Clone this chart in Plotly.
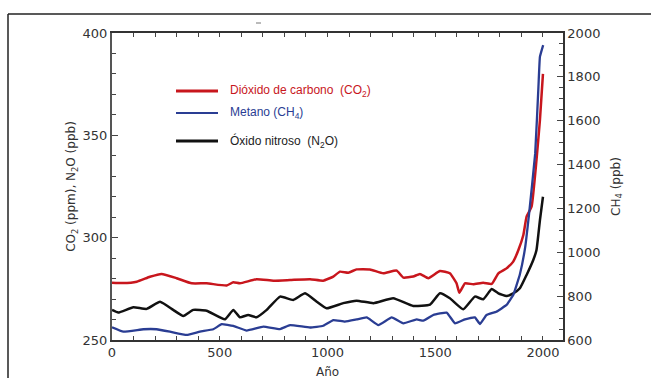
import plotly.graph_objects as go

# ---- data ----
co2_years = [0, 50, 115, 176, 230, 300, 370, 439, 532, 563, 594, 671, 749, 826, 919, 980,
             1027, 1058, 1097, 1135, 1197, 1259, 1321, 1352, 1398, 1429, 1468, 1522, 1568,
             1599, 1612, 1638, 1677, 1723, 1762, 1793, 1831, 1862, 1886, 1909, 1924, 1947,
             1970, 1986, 2000]
co2_values = [278.0, 277.8, 278.5, 280.9, 282.3, 280.2, 277.7, 277.7, 276.6, 278.2, 277.7,
              279.7, 279.0, 279.3, 279.7, 279.0, 281.0, 283.4, 282.9, 284.5, 284.5, 282.6,
              283.9, 280.5, 281.0, 282.3, 280.2, 283.7, 282.6, 277.7, 273.1, 277.7, 277.2,
              278.0, 277.4, 282.6, 285.0, 288.3, 294.0, 301.3, 310.3, 315.1, 338.0, 357.5,
              380.0]

ch4_years = [0, 53, 146, 207, 269, 347, 408, 470, 509, 563, 625, 702, 780, 826, 919, 980,
             1027, 1081, 1135, 1182, 1236, 1298, 1352, 1414, 1445, 1491, 1553, 1592, 1638,
             1684, 1708, 1738, 1784, 1831, 1862, 1893, 1917, 1935, 1964, 1979, 1986, 2001]
ch4_values = [658, 638, 649, 649, 638, 623, 638, 649, 672, 664, 643, 661, 650, 668, 657, 665,
              691, 684, 694, 703, 668, 703, 676, 694, 688, 714, 725, 676, 694, 703, 673, 714,
              729, 760, 805, 900, 1020, 1170, 1451, 1755, 1892, 1945]

n2o_years = [0, 29, 99, 161, 223, 284, 331, 377, 439, 524, 563, 594, 632, 671, 718, 780, 841,
             896, 950, 996, 1073, 1135, 1213, 1305, 1398, 1476, 1522, 1568, 1630, 1684, 1723,
             1762, 1793, 1831, 1862, 1893, 1924, 1955, 1970, 1986, 2000]
n2o_values = [264.7, 263.4, 266.0, 265.2, 268.7, 264.7, 261.7, 264.7, 264.3, 260.1, 264.7,
              261.1, 262.2, 261.1, 264.7, 271.2, 269.6, 272.8, 268.7, 265.5, 268.0, 269.2,
              268.0, 270.4, 266.6, 267.3, 272.8, 270.4, 265.0, 271.2, 269.9, 274.9, 272.8,
              271.5, 272.8, 275.3, 281.8, 289.1, 294.0, 308.6, 320.0]

x_ticks = [0, 500, 1000, 1500, 2000]
left_ticks = [250, 300, 350, 400]
right_ticks = [600, 800, 1000, 1200, 1400, 1600, 1800, 2000]

legend_labels = ["Dióxido de carbono  (CO<sub>2</sub>)", "Metano (CH<sub>4</sub>)",
                 "Óxido nitroso  (N<sub>2</sub>O)"]

RED = "#c8161d"
BLUE = "#2a3d93"
BLACK = "#111111"
TXT = "#333333"
FONT = "DejaVu Sans"

W, H = 651, 378
L, R, T, B = 112, 88, 33, 38
PW, PH = W - L - R, H - T - B


def px(xp):
    return (xp - L) / PW


def py(yp):
    return (H - B - yp) / PH


fig = go.Figure()
fig.add_trace(go.Scatter(x=co2_years, y=co2_values, mode="lines", yaxis="y",
                         line=dict(color=RED, width=2.5, shape="spline", smoothing=0.4),
                         showlegend=False))
fig.add_trace(go.Scatter(x=n2o_years, y=n2o_values, mode="lines", yaxis="y",
                         line=dict(color=BLACK, width=2.5, shape="spline", smoothing=0.4),
                         showlegend=False))
fig.add_trace(go.Scatter(x=ch4_years, y=ch4_values, mode="lines", yaxis="y2",
                         line=dict(color=BLUE, width=2.3, shape="spline", smoothing=0.3),
                         showlegend=False))

axis_common = dict(showgrid=False, zeroline=False, ticks="inside", tickcolor="#444",
                   linecolor="#333", linewidth=1.5,
                   tickfont=dict(family=FONT, size=13, color=TXT))

fig.update_layout(
    width=W, height=H,
    margin=dict(l=L, r=R, t=T, b=B, pad=0),
    paper_bgcolor="white", plot_bgcolor="white",
    font=dict(family=FONT, color=TXT),
    xaxis=dict(range=[0, 2093], tickvals=x_ticks, ticklen=4, showline=True, mirror="allticks",
               minor=dict(dtick=100, ticklen=2, ticks="inside", tickcolor="#444"),
               **axis_common),
    yaxis=dict(range=[250, 400], tickvals=left_ticks, ticklen=6, showline=True,
               linecolor="#555", linewidth=2,
               minor=dict(dtick=10, ticklen=4, ticks="inside", tickcolor="#444"),
               title=dict(text="CO<sub>2</sub> (ppm), N<sub>2</sub>O (ppb)", standoff=4,
                          font=dict(family=FONT, size=12, color=TXT)),
               **{k: v for k, v in axis_common.items() if k not in ("linecolor", "linewidth")}),
    yaxis2=dict(range=[600, 2000], tickvals=right_ticks, ticklen=6, showline=True,
                overlaying="y", side="right",
                minor=dict(dtick=50, ticklen=4, ticks="inside", tickcolor="#444"),
                title=dict(text="CH<sub>4</sub> (ppb)", standoff=12,
                           font=dict(family=FONT, size=12, color=TXT)),
                **axis_common),
)

# "Año" title centred on the 0-2000 span
fig.add_annotation(x=1000, xref="x", y=py(372), yref="paper", text="Año", showarrow=False,
                   font=dict(family=FONT, size=12, color=TXT), xanchor="center", yanchor="middle")

# manual legend
leg_colors = [RED, BLUE, BLACK]
leg_widths = [3, 2.2, 3]
leg_y = [91, 113, 141]
for lab, col, lw, yy in zip(legend_labels, leg_colors, leg_widths, leg_y):
    fig.add_shape(type="line", xref="paper", yref="paper", x0=px(176), x1=px(218),
                  y0=py(yy), y1=py(yy), line=dict(color=col, width=lw))
    fig.add_annotation(xref="paper", yref="paper", x=px(228), y=py(yy), text=lab,
                       showarrow=False, xanchor="left", yanchor="middle",
                       font=dict(family="Liberation Sans", size=12,
                                 color=col if col != BLACK else "#222"))

# outer frame (left and top edges visible)
fig.add_shape(type="line", xref="paper", yref="paper", x0=px(8), x1=px(700), y0=py(14),
              y1=py(14), line=dict(color="#222", width=1.5))
fig.add_shape(type="line", xref="paper", yref="paper", x0=px(8), x1=px(8), y0=py(14),
              y1=py(400), line=dict(color="#222", width=1.5))
# small stray mark above the plot
fig.add_shape(type="line", xref="paper", yref="paper", x0=px(256), x1=px(261), y0=py(23),
              y1=py(23), line=dict(color="#777", width=1))

fig.write_html("out.html")
